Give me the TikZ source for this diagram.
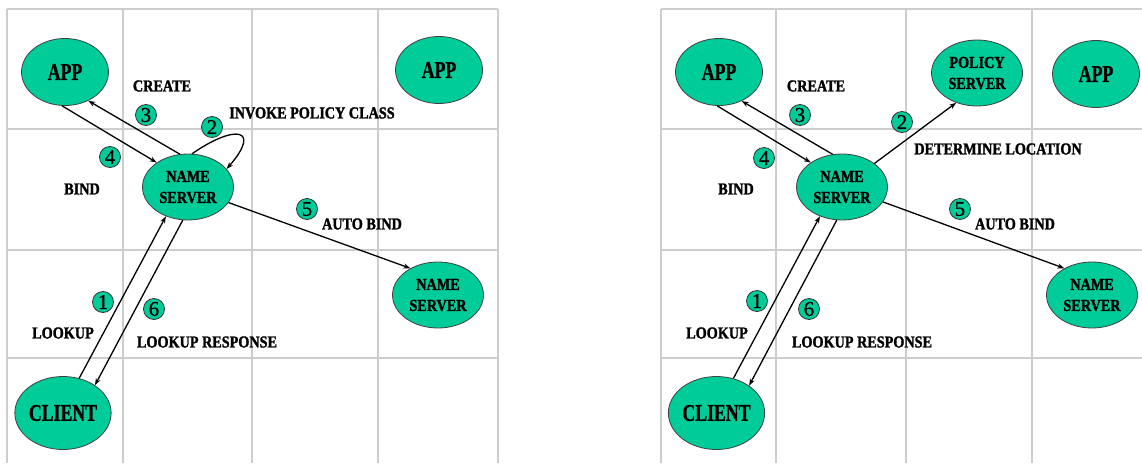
\documentclass[tikz,border=0pt]{standalone}
\usepackage{fontspec}
\setmainfont{Liberation Serif}
\newfontfamily\lblfont[FakeStretch=0.85,BoldFeatures={FakeBold=1.6}]{Liberation Serif}
\newfontfamily\bigfont[FakeStretch=0.74,BoldFeatures={FakeBold=1.0}]{Liberation Serif}
\newfontfamily\numfont[FakeBold=1.0]{Liberation Serif}
\usetikzlibrary{shapes.geometric,arrows.meta}
\definecolor{nodegreen}{RGB}{0,204,153}
\definecolor{gridgray}{RGB}{205,205,205}
\tikzset{
  ell/.style={ellipse, draw=black!75, line width=0.8pt, fill=nodegreen, inner sep=0pt,
     minimum width=89pt, minimum height=66pt, align=center},
  bigtxt/.style={ell, font=\bigfont\bfseries\fontsize{24}{26}\selectfont},
  nstxt/.style={ell, font=\lblfont\bfseries\fontsize{16.7}{21}\selectfont, minimum width=91pt},
  lbl/.style={font=\lblfont\bfseries\fontsize{16.7}{20}\selectfont, inner sep=0pt},
  num/.style={circle, draw=black!80, line width=0.8pt, fill=nodegreen, inner sep=0pt,
     minimum size=21pt, font=\numfont\fontsize{21}{21}\selectfont},
  arr/.style={line width=1.3pt, -{Stealth[length=7pt,width=5pt]}},
  gridline/.style={gridgray, line width=1.1pt}
}
\begin{document}
\begin{tikzpicture}[x=1pt,y=-1pt]
\useasboundingbox (0,0) rectangle (1142,463);
% grids
\foreach \x in {7,123,252,378,498} \draw[gridline] (\x,9) -- (\x,463);
\foreach \y in {9,129,250,358} \draw[gridline] (7,\y) -- (498,\y);
\foreach \x in {661,776,906,1032} \draw[gridline] (\x,9) -- (\x,463);
\foreach \y in {9,129,250,358} \draw[gridline] (661,\y) -- (1142,\y);

% ---------- left panel ----------
\node[bigtxt, minimum width=87pt, minimum height=67pt] (lapp) at (65,72) {APP};
\node[bigtxt, minimum width=87pt, minimum height=67pt] (lapp2) at (439,70) {APP};
\node[nstxt] (lns) at (188,187) {NAME\\SERVER};
\node[nstxt] (lns2) at (438,295) {NAME\\SERVER};
\node[bigtxt, minimum width=82pt, minimum height=73pt] (lcl) at (63,413) {CLIENT};

\draw[arr] (lapp.-95) -- (lns.142);
\draw[arr] (lns.104) -- (lapp.-51);
\draw[arr] (lns.83) .. controls (235,124) and (262,128) .. (lns.25);
\draw[arr] (lns.-21) -- (lns2.136);
\draw[arr] (lcl.65) -- (lns.-127);
\draw[arr] (lns.-99) -- (lcl.41);

\node[lbl] (lcreate) at (162,86) {CREATE};
\node[lbl] (linvoke) at (312,113) {INVOKE POLICY CLASS};
\node[lbl] (lbind) at (82,189) {BIND};
\node[lbl] (lauto) at (362,224) {AUTO BIND};
\node[lbl] (llook) at (63,333) {LOOKUP};
\node[lbl] (llookr) at (207,342) {LOOKUP RESPONSE};

\node[num] (ln3) at (146,115) {3};
\node[num] (ln2) at (212,127) {2};
\node[num] (ln4) at (110,157) {4};
\node[num] (ln5) at (307,209) {5};
\node[num] (ln1) at (103,302) {1};
\node[num] (ln6) at (154,309) {6};

% ---------- right panel ----------
\node[bigtxt, minimum width=87pt, minimum height=67pt] (rapp) at (719,72) {APP};
\node[nstxt] (rpol) at (977,73) {POLICY\\SERVER};
\node[bigtxt, minimum width=87pt, minimum height=67pt] (rapp2) at (1096,74) {APP};
\node[nstxt] (rns) at (842,187) {NAME\\SERVER};
\node[nstxt] (rns2) at (1092,295) {NAME\\SERVER};
\node[bigtxt, minimum width=82pt, minimum height=73pt] (rcl) at (716.5,413) {CLIENT};

\draw[arr] (rapp.-93) -- (rns.142);
\draw[arr] (rns.106) -- (rapp.-52);
\draw[arr] (rns.36) -- (rpol.-125);
\draw[arr] (rns.-20) -- (rns2.136);
\draw[arr] (rcl.64) -- (rns.-127);
\draw[arr] (rns.-99) -- (rcl.40);

\node[lbl] (rcreate) at (816,86) {CREATE};
\node[lbl] (rdet) at (998,149) {DETERMINE LOCATION};
\node[lbl] (rbind) at (736,189) {BIND};
\node[lbl] (rauto) at (1015,224) {AUTO BIND};
\node[lbl] (rlook) at (717,333) {LOOKUP};
\node[lbl] (rlookr) at (862,342) {LOOKUP RESPONSE};

\node[num] (rn3) at (800,115) {3};
\node[num] (rn2) at (902,122) {2};
\node[num] (rn4) at (764,158) {4};
\node[num] (rn5) at (960,209) {5};
\node[num] (rn1) at (757,301) {1};
\node[num] (rn6) at (809,309) {6};
\end{tikzpicture}
\end{document}
